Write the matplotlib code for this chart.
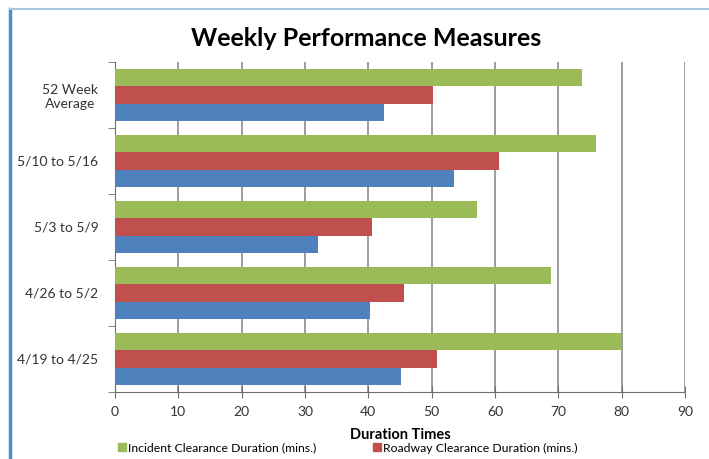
import matplotlib.pyplot as plt
import numpy as np
from matplotlib.lines import Line2D
from matplotlib.patches import Patch

plt.rcParams['font.family'] = ['Lato', 'DejaVu Sans']

categories = ['52 Week\nAverage', '5/10 to 5/16', '5/3 to 5/9', '4/26 to 5/2', '4/19 to 4/25']
incident = [73.7, 76.0, 57.2, 68.9, 79.9]
roadway = [50.2, 60.7, 40.6, 45.7, 50.8]
third = [42.5, 53.5, 32.1, 40.2, 45.2]
xticks = [0, 10, 20, 30, 40, 50, 60, 70, 80, 90]

green = '#9BBB59'
red = '#C0504D'
blue = '#4F81BD'

fig = plt.figure(figsize=(7.09, 4.59), dpi=100)
fig.patch.set_facecolor('white')
ax = fig.add_axes([115/709, 1-392/459, 570/709, 330/459])

n = len(categories)
y = np.arange(n)[::-1]  # top category first
h = 0.265
ax.barh(y + h, incident, height=h, color=green, zorder=3)
ax.barh(y, roadway, height=h, color=red, zorder=3)
ax.barh(y - h, third, height=h, color=blue, zorder=3)

ax.set_xlim(0, 90)
ax.set_ylim(-0.5, n - 0.5)
ax.set_xticks(xticks)
ax.tick_params(axis='x', direction='inout', length=8, color='#6e6e6e',
               labelsize=10, labelcolor='#333333', pad=6)
ax.set_yticks(y)
ax.set_yticklabels(categories, fontsize=10, color='#333333', linespacing=1.25)
ax.set_yticks(np.arange(n + 1) - 0.5, minor=True)
ax.tick_params(axis='y', which='major', length=0, pad=12)
ax.tick_params(axis='y', which='minor', length=5, direction='out', color='#6e6e6e')
for lbl in ax.get_yticklabels():
    lbl.set_multialignment('center')

ax.grid(axis='x', color='#8c8c8c', linewidth=1.2, zorder=0)
for s in ['top', 'right']:
    ax.spines[s].set_visible(False)
ax.spines['left'].set_color('#6e6e6e')
ax.spines['bottom'].set_color('#6e6e6e')

ax.set_xlabel('Duration Times', fontsize=10.5, fontweight='bold', labelpad=7)
fig.text(366/709, 1-38/459, 'Weekly Performance Measures', fontsize=18,
         fontweight='bold', ha='center', va='center')

handles = [Patch(color=green, label='Incident Clearance Duration (mins.)'),
           Patch(color=red, label='Roadway Clearance Duration (mins.)')]
fig.legend(handles=handles, loc='center left', bbox_to_anchor=(112/709, 1-448/459),
           ncol=2, frameon=False, fontsize=8.8, handlelength=0.65, handleheight=0.65,
           handletextpad=0.2, columnspacing=4.6, borderpad=0)

# chart frame
fig.add_artist(Line2D([10/709, 10/709], [0, 1-9/459], color='#4a90c8', linewidth=2.5))
fig.add_artist(Line2D([10/709, 1], [1-9/459, 1-9/459], color='#a8c8e0', linewidth=1.5))

fig.savefig('out.png', dpi=100)
